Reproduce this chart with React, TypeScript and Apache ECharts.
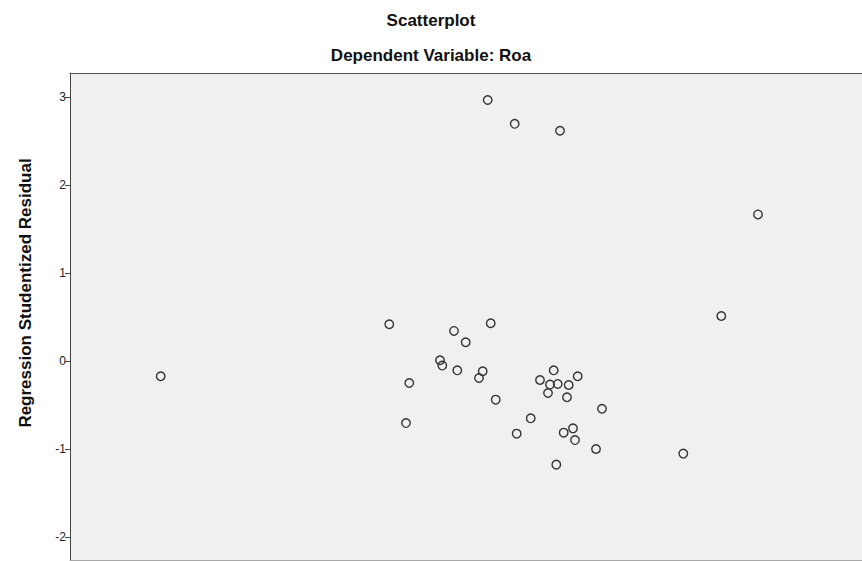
import React, { useEffect, useRef } from "react";
import * as echarts from "echarts";

// Regression standardized predicted value (x, arbitrary units since axis is cropped) vs studentized residual (y)
const predicted = [
  0.177, 0.447, 0.9, 2.88, 2.513, -0.807, 0.207, -0.16, -0.043, -0.3, -0.277, -0.127,
  0.127, 0.09, -3.093, -0.607, 0.837, 0.7, 0.8, 0.877, 0.987, 1.077, 0.78, 0.97,
  0.257, 1.32, 0.607, -0.64, 0.467, 1.03, 0.937, 1.05, 1.26, 0.863, 2.133,
];
const residual = [
  2.963, 2.693, 2.614, 1.664, 0.511, 0.417, 0.428, 0.341, 0.2125, 0.008, -0.052, -0.106,
  -0.117, -0.193, -0.174, -0.25, -0.106, -0.216, -0.268, -0.261, -0.273, -0.174, -0.364, -0.4125,
  -0.439, -0.543, -0.651, -0.705, -0.825, -0.765, -0.814, -0.898, -1.0, -1.177, -1.052,
];
const yTicks = [-2, -1, 0, 1, 2, 3];

const title = "Scatterplot";
const subtitle = "Dependent Variable: Roa";
const yName = "Regression Studentized Residual";

export default function App() {
  const ref = useRef<HTMLDivElement>(null);
  useEffect(() => {
    if (!ref.current) return;
    const chart = echarts.init(ref.current, null, { renderer: "svg" });
    const font = "Arial, 'Liberation Sans', sans-serif";
    const hiddenX = {
      type: "value",
      min: -4,
      max: 3.92,
      axisTick: { show: false },
      axisLabel: { show: false },
      splitLine: { show: false },
    };
    chart.setOption({
      animation: false,
      backgroundColor: "#ffffff",
      textStyle: { fontFamily: font },
      title: [
        {
          text: title,
          left: "center",
          top: 7,
          textStyle: { fontSize: 17, fontWeight: "bold", color: "#111", fontFamily: font },
        },
        {
          text: subtitle,
          left: "center",
          top: 42,
          textStyle: { fontSize: 17, fontWeight: "bold", color: "#111", fontFamily: font },
        },
      ],
      graphic: [
        {
          type: "text",
          x: 25,
          y: 293,
          rotation: Math.PI / 2,
          style: {
            text: yName,
            fontSize: 17,
            fontWeight: "bold",
            fill: "#111",
            fontFamily: font,
            align: "center",
            verticalAlign: "middle",
          },
        },
      ],
      grid: {
        left: 70,
        right: 0,
        top: 73,
        bottom: 1,
        show: true,
        backgroundColor: "#f0f0f0",
        borderWidth: 0,
      },
      xAxis: [
        {
          ...hiddenX,
          position: "bottom",
          axisLine: { show: true, onZero: false, lineStyle: { color: "#a8a8a8", width: 1 } },
        },
        {
          ...hiddenX,
          position: "top",
          axisLine: { show: true, onZero: false, lineStyle: { color: "#555", width: 1 } },
        },
      ],
      yAxis: {
        type: "value",
        min: -2.26,
        max: 3.27,
        axisLine: { show: true, onZero: false, lineStyle: { color: "#444", width: 1 } },
        axisTick: {
          show: true,
          length: 5,
          customValues: yTicks,
          lineStyle: { color: "#444" },
        },
        axisLabel: {
          customValues: yTicks,
          fontSize: 12,
          color: "#222",
          margin: 4,
          fontFamily: font,
        },
        splitLine: { show: false },
      },
      series: [
        {
          type: "scatter",
          data: predicted.map((x, i) => [x, residual[i]]),
          symbol: "circle",
          symbolSize: 8.5,
          itemStyle: {
            color: "rgba(0,0,0,0)",
            borderColor: "#333",
            borderWidth: 1.4,
            opacity: 1,
          },
        },
      ],
    });
    return () => chart.dispose();
  }, []);
  return <div ref={ref} style={{ width: 862, height: 561, position: "absolute", left: 0, top: 0 }} />;
}
